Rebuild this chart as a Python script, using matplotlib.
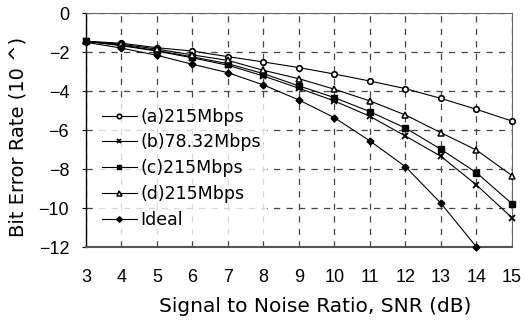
import numpy as np
import matplotlib.pyplot as plt

plt.rcParams['font.family'] = ['Liberation Sans', 'DejaVu Sans']

# SNR values (dB)
snr = [3, 4, 5, 6, 7, 8, 9, 10, 11, 12, 13, 14, 15]
snr_ideal = [3, 4, 5, 6, 7, 8, 9, 10, 11, 12, 13, 14]

# log10 of bit error rate
ber_a = [-1.45, -1.55, -1.78, -1.95, -2.24, -2.51, -2.80, -3.13, -3.49, -3.88, -4.38, -4.94, -5.54]
ber_b = [-1.45, -1.68, -1.95, -2.30, -2.68, -3.23, -3.86, -4.51, -5.30, -6.31, -7.35, -8.82, -10.50]
ber_c = [-1.45, -1.65, -1.92, -2.25, -2.60, -3.11, -3.74, -4.34, -5.06, -5.90, -6.99, -8.19, -9.78]
ber_d = [-1.45, -1.60, -1.85, -2.15, -2.43, -2.94, -3.37, -3.91, -4.51, -5.23, -6.14, -7.03, -8.34]
ber_ideal = [-1.50, -1.80, -2.17, -2.63, -3.06, -3.69, -4.46, -5.37, -6.56, -7.88, -9.76, -12.0]

fig = plt.figure(figsize=(5.27, 3.21), dpi=100)
ax = fig.add_axes([0.163, 0.2305, 0.8085, 0.729])

lw = 0.8
ax.plot(snr, ber_a, color='black', lw=lw, marker='o', ms=4, mfc='white', mew=1.2,
        label='(a)215Mbps', clip_on=False, zorder=3)
ax.plot(snr, ber_b, color='black', lw=lw, marker='x', ms=4, mew=1.3,
        label='(b)78.32Mbps', clip_on=False, zorder=3)
ax.plot(snr, ber_c, color='black', lw=lw, marker='s', ms=4,
        label='(c)215Mbps', clip_on=False, zorder=3)
ax.plot(snr, ber_d, color='black', lw=lw, marker='^', ms=4.5, mfc='white', mew=1.1,
        label='(d)215Mbps', clip_on=False, zorder=3)
ax.plot(snr_ideal, ber_ideal, color='black', lw=lw, marker='D', ms=3.5,
        label='Ideal', clip_on=False, zorder=3)

ax.set_xlim(3, 15)
ax.set_ylim(-12, 0)
ax.set_xticks(range(3, 16))
ax.set_yticks(range(-12, 1, 2))
ax.set_yticklabels(['\u221212', '\u221210', '\u22128', '\u22126', '\u22124', '\u22122', '0'])
ax.tick_params(axis='both', labelsize=13, colors='black')
ax.tick_params(axis='x', length=0, pad=16)
ax.tick_params(axis='y', length=3, width=0.8, pad=9)

ax.grid(True, color='#444444', linestyle=(0, (5, 5)), linewidth=0.9)
for side in ['top', 'right']:
    ax.spines[side].set_color('#666666')
    ax.spines[side].set_linewidth(0.8)
ax.spines['left'].set_linewidth(1.0)
ax.spines['bottom'].set_linewidth(1.5)
ax.spines['bottom'].set_color('#555555')

ax.set_xlabel('Signal to Noise Ratio, SNR (dB)', fontsize=14.5, family='DejaVu Sans')
ax.set_ylabel('Bit Error Rate (10 ^)', fontsize=14, family='DejaVu Sans')
ax.xaxis.set_label_coords(0.537, -0.215)
ax.yaxis.set_label_coords(-0.138, 0.472)

leg = ax.legend(loc='upper left', bbox_to_anchor=(0.005, 0.655), frameon=True,
                prop={'family': 'DejaVu Sans', 'size': 12.5},
                handlelength=2.0, handletextpad=0.2, markerscale=0.8,
                labelspacing=0.45, borderpad=0.3, fancybox=False)
leg.get_frame().set_facecolor('white')
leg.get_frame().set_edgecolor('white')

plt.savefig('out.png', dpi=100)
